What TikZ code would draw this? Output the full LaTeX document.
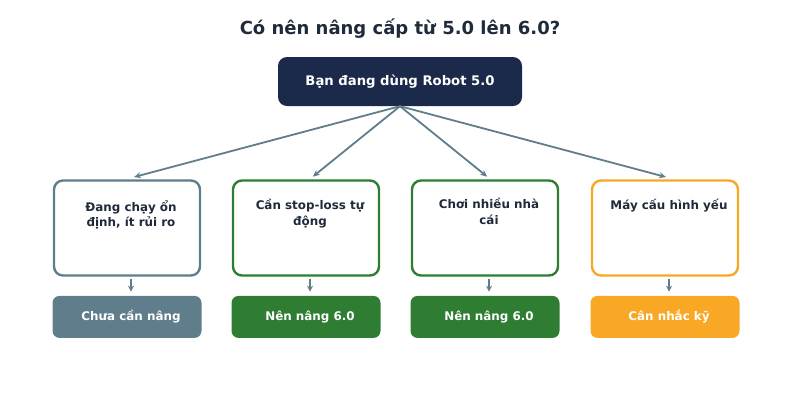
\documentclass[tikz,border=0pt]{standalone}
\usepackage{fontspec}
\setmainfont{DejaVu Sans}
\usepackage{xcolor}
\usetikzlibrary{arrows.meta,positioning,calc}

\definecolor{navy}{HTML}{1B2A4A}
\definecolor{slate}{HTML}{607D8B}
\definecolor{leaf}{HTML}{2E7D32}
\definecolor{amber}{HTML}{F9A825}
\definecolor{ink}{HTML}{1F2A3A}

\begin{document}
\begin{tikzpicture}[
  x=1pt, y=-1pt,
  every node/.style = {font=\bfseries},
  rootbox/.style = {rectangle, rounded corners=9pt, fill=navy, text=white,
                    minimum width=244pt, minimum height=49pt,
                    font=\fontsize{13.2}{15}\selectfont\bfseries},
  optbox/.style  = {rectangle, rounded corners=9pt, line width=2.4pt, fill=white,
                    minimum width=146pt, minimum height=95pt},
  opttext/.style = {text=ink, align=center, inner sep=0pt,
                    font=\fontsize{11.9}{15.5}\selectfont\bfseries, anchor=north},
  resbox/.style  = {rectangle, rounded corners=7pt, text=white,
                    minimum width=149pt, minimum height=42pt,
                    font=\fontsize{11.9}{14}\selectfont\bfseries},
  arr/.style     = {-{Stealth[length=7pt,width=6pt]}, line width=1.8pt, slate,
                    shorten >=1pt},
  tip/.style     = {-{Stealth[length=6pt,width=6pt]}, line width=1.6pt, slate},
]
\useasboundingbox (0,0) rectangle (800,400);

% ── Title and root ───────────────────────────────────────────
\node[text=ink, font=\fontsize{18}{21}\selectfont\bfseries] (title) at (400,29)
  {Có nên nâng cấp từ 5.0 lên 6.0?};
\node[rootbox] (root) at (400,81.5) {Bạn đang dùng Robot 5.0};

% ── Option boxes ─────────────────────────────────────────────
\node[optbox, draw=slate]  (o1) at (127,228) {};
\node[optbox, draw=leaf]   (o2) at (306,228) {};
\node[optbox, draw=leaf]   (o3) at (485,228) {};
\node[optbox, draw=amber]  (o4) at (665,228) {};

\node[opttext] (t1) at ($(o1.north)+(4,21)$) {Đang chạy ổn\\định, ít rủi ro};
\node[opttext] (t2) at ($(o2.north)+(4,20)$) {Cần stop-loss tự\\động};
\node[opttext] (t3) at ($(o3.north)+(4,19)$) {Chơi nhiều nhà\\cái};
\node[opttext] (t4) at ($(o4.north)+(4,20)$) {Máy cấu hình yếu};

% ── Results ──────────────────────────────────────────────────
\node[resbox, fill=slate, below=19pt of o1] (r1) {\hspace*{8pt}Chưa cần nâng};
\node[resbox, fill=leaf,  below=19pt of o2] (r2) {\hspace*{8pt}Nên nâng 6.0};
\node[resbox, fill=leaf,  below=19pt of o3] (r3) {\hspace*{8pt}Nên nâng 6.0};
\node[resbox, fill=amber, below=19pt of o4] (r4) {\hspace*{8pt}Cân nhắc kỹ};

% ── Fan-out arrows ───────────────────────────────────────────
\foreach \i/\dx in {1/6, 2/6, 3/3, 4/2} {
  \coordinate (in\i) at ($(o\i.north)+(\dx,-2)$);
  \draw[arr] (root.south) -- (in\i);
}

% ── Short arrows to results ──────────────────────────────────
\foreach \i in {1,...,4} {
  \coordinate (a\i) at ($(o\i.south)+(4,2)$);
  \coordinate (b\i) at ($(r\i.north)+(4,-4)$);
  \draw[tip] (a\i) -- (b\i);
}

\end{tikzpicture}
\end{document}
